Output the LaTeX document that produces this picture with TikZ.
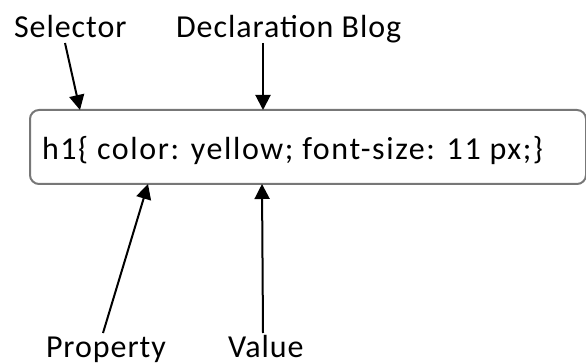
\documentclass[tikz,border=0pt]{standalone}
\usepackage{fontspec}
\setmainfont{Carlito}
\usetikzlibrary{arrows.meta}
\begin{document}
\begin{tikzpicture}[x=1pt,y=-1pt,line cap=rect]
	\definecolor{custcol_0_0_0}{RGB}{0, 0, 0}
	\definecolor{custcol_77_77_77}{RGB}{119, 119, 119}
	\tikzset{lbl/.style={inner sep=0, outer sep=0, custcol_0_0_0, font=\fontsize{32pt}{32pt}\selectfont\addfontfeatures{LetterSpace=3}},
		codelbl/.style={lbl, font=\fontsize{32pt}{32pt}\selectfont\addfontfeatures{LetterSpace=5}},
		pointer/.style={line width=2.0pt, custcol_0_0_0, line cap=butt, -{Triangle[length=15pt,width=15pt]}}}
	\useasboundingbox (0,0) rectangle (586,363);
	\node[draw=custcol_77_77_77, line width=2.0pt, rounded corners=9pt, minimum width=556pt, minimum height=74pt, inner sep=0] (code) at (308,147) {};
	\node[codelbl, anchor=base west] (codetxt) at (42,160) {h1\{ color: yellow; font-size: 11 px;\}};
	\node[lbl, anchor=base west] (sel) at (14,38) {Selector};
	\node[lbl, anchor=base west] (decl) at (176,38) {Declaration Blog};
	\node[lbl, anchor=base west] (prop) at (46,357) {Property};
	\node[lbl, anchor=base west] (val) at (228,357) {Value};
	\coordinate (selTip) at (80,110);
	\coordinate (declTip) at (263,110);
	\coordinate (propTip) at (148,184);
	\coordinate (valTip) at (262,184);
	\draw [pointer] (65,43) -- (selTip);
	\draw [pointer] (263,43) -- (declTip);
	\draw [pointer] (103,333) -- (propTip);
	\draw [pointer] (263,333) -- (valTip);
\end{tikzpicture}
\end{document}
